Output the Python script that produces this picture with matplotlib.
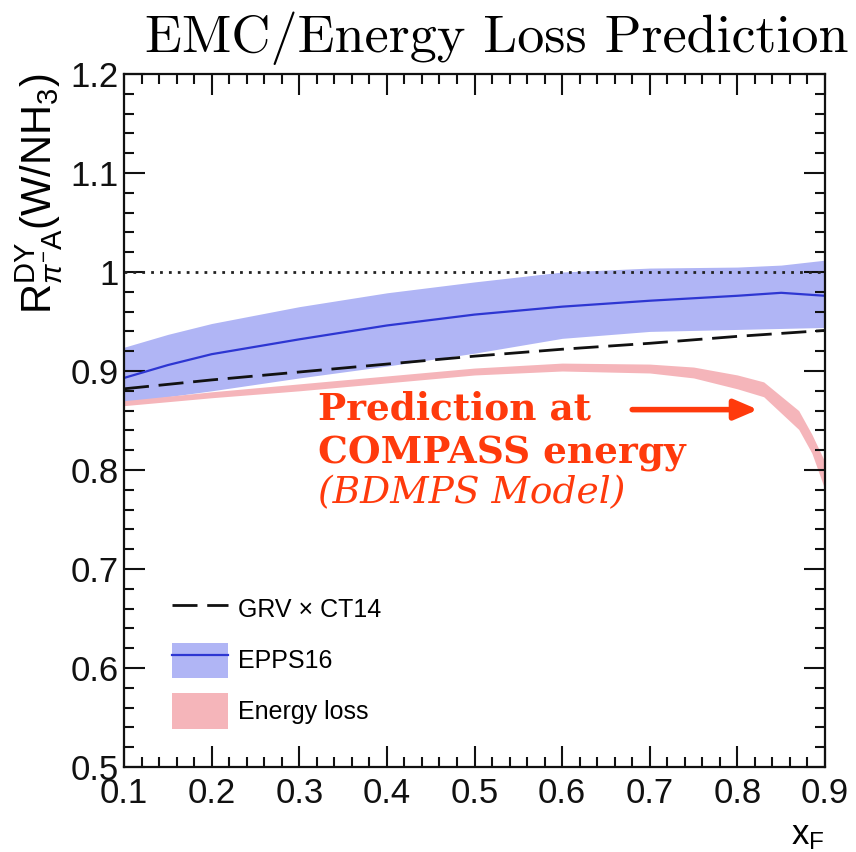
import matplotlib
import matplotlib.pyplot as plt
from matplotlib.lines import Line2D
from matplotlib.patches import Patch
from matplotlib.ticker import MultipleLocator, FuncFormatter

matplotlib.use('Agg')

# GRV x CT14 ratio (no nuclear modification of pion PDF)
grv_x = [0.1, 0.2, 0.3, 0.4, 0.5, 0.6, 0.7, 0.8, 0.9]
grv_ratio = [0.882, 0.891, 0.899, 0.907, 0.915, 0.922, 0.928, 0.935, 0.941]

# EPPS16 central value and uncertainty band
epps_x = [0.1, 0.15, 0.2, 0.3, 0.4, 0.5, 0.6, 0.7, 0.8, 0.85, 0.9]
epps_hi = [0.924, 0.937, 0.948, 0.965, 0.979, 0.990, 1.000, 1.004, 1.005, 1.007, 1.012]
epps_mid = [0.893, 0.906, 0.917, 0.932, 0.946, 0.957, 0.965, 0.971, 0.976, 0.979, 0.976]
epps_lo = [0.868, 0.874, 0.880, 0.893, 0.905, 0.918, 0.933, 0.940, 0.942, 0.943, 0.944]

# Energy loss (BDMPS) band
eloss_x = [0.10, 0.20, 0.30, 0.40, 0.50, 0.60, 0.70, 0.75, 0.80, 0.83, 0.87, 0.885, 0.90]
eloss_hi = [0.870, 0.879, 0.887, 0.895, 0.903, 0.908, 0.907, 0.904, 0.896, 0.889, 0.860, 0.836, 0.808]
eloss_lo = [0.865, 0.873, 0.880, 0.888, 0.896, 0.900, 0.898, 0.893, 0.882, 0.874, 0.841, 0.817, 0.780]

legend_labels = ['GRV \u00d7 CT14', 'EPPS16', 'Energy loss']
note_lines = ['Prediction at', 'COMPASS energy', '(BDMPS Model)']


def main():
    plt.rcParams['font.family'] = 'Liberation Sans'
    plt.rcParams['mathtext.fontset'] = 'custom'
    plt.rcParams['mathtext.rm'] = 'Liberation Sans'
    plt.rcParams['mathtext.it'] = 'Liberation Sans:italic'
    plt.rcParams['mathtext.bf'] = 'Liberation Sans:bold'

    palette = {
        'band': '#b0b5f5',
        'line': '#2d36d2',
        'eloss': '#f5b5ba',
        'note': '#ff3a0c',
    }

    fig = plt.figure(figsize=(8.56, 8.52), dpi=100)
    fig.patch.set_facecolor('white')
    ax = fig.add_axes([0.1449, 0.0998, 0.8189, 0.8133])

    ax.fill_between(epps_x, epps_lo, epps_hi, color=palette['band'], lw=0)
    ax.fill_between(eloss_x, eloss_lo, eloss_hi, color=palette['eloss'], lw=0)
    ax.axhline(1.0, color='#222222', lw=2.0, linestyle=(0, (1, 2.2)))
    ax.plot(grv_x, grv_ratio, color='#111111', lw=2.0, dashes=(9, 3.5))
    ax.plot(epps_x, epps_mid, color=palette['line'], lw=1.6)

    ax.set_xlim(0.1, 0.9)
    ax.set_ylim(0.5, 1.2)

    ax.xaxis.set_major_locator(MultipleLocator(0.1))
    ax.xaxis.set_minor_locator(MultipleLocator(0.02))
    ax.yaxis.set_major_locator(MultipleLocator(0.1))
    ax.yaxis.set_minor_locator(MultipleLocator(0.02))
    fmt = FuncFormatter(lambda v, pos: f'{v:g}')
    ax.xaxis.set_major_formatter(fmt)
    ax.yaxis.set_major_formatter(fmt)

    ax.tick_params(which='both', direction='in', top=True, right=True,
                   colors='#111111', width=1.5)
    ax.tick_params(which='major', length=15, labelsize=25)
    ax.tick_params(axis='y', which='major', pad=4)
    ax.tick_params(axis='x', which='major', pad=7)
    ax.tick_params(which='minor', length=7.5)
    for spine in ax.spines.values():
        spine.set_linewidth(1.6)
        spine.set_color('#111111')

    ax.set_ylabel(r'R$^{\mathrm{DY}}_{\pi^{-}\mathrm{A}}$(W/NH$_{3}$)',
                  fontsize=30, loc='top', labelpad=4)
    ax.set_xlabel(r'x$_{\mathrm{F}}$', fontsize=25, loc='right', labelpad=7)

    handles = [
        Line2D([], [], color='#111111', lw=2.0, dashes=(9, 3.5)),
        (Patch(facecolor=palette['band'], lw=0),
         Line2D([], [], color=palette['line'], lw=1.6)),
        Patch(facecolor=palette['eloss'], lw=0),
    ]
    ax.legend(handles, legend_labels, loc='upper left',
              bbox_to_anchor=(0.068, 0.253), frameon=False, fontsize=18,
              handlelength=2.24, handleheight=1.8, handletextpad=0.4,
              labelspacing=0.62, borderaxespad=0, borderpad=0)

    # Annotation for the energy loss curve
    note_y = [0.8515, 0.807, 0.767]
    for i, (text, y) in enumerate(zip(note_lines, note_y)):
        ax.text(0.321, y, text, color=palette['note'], fontsize=27,
                family='DejaVu Serif',
                fontweight='normal' if i == 2 else 'bold',
                fontstyle='italic' if i == 2 else 'normal',
                va='baseline', ha='left')
    ax.annotate('', xy=(0.8235, 0.861), xytext=(0.680, 0.861),
                arrowprops=dict(arrowstyle='-|>,head_length=1.4,head_width=0.6',
                                color=palette['note'], lw=4.0,
                                shrinkA=0, shrinkB=0))

    fig.text(0.991, 0.939, 'EMC/Energy Loss Prediction', family='cmr10',
             fontsize=39, ha='right', va='baseline')

    fig.savefig('out.png', dpi=100, facecolor='white')


if __name__ == '__main__':
    main()
